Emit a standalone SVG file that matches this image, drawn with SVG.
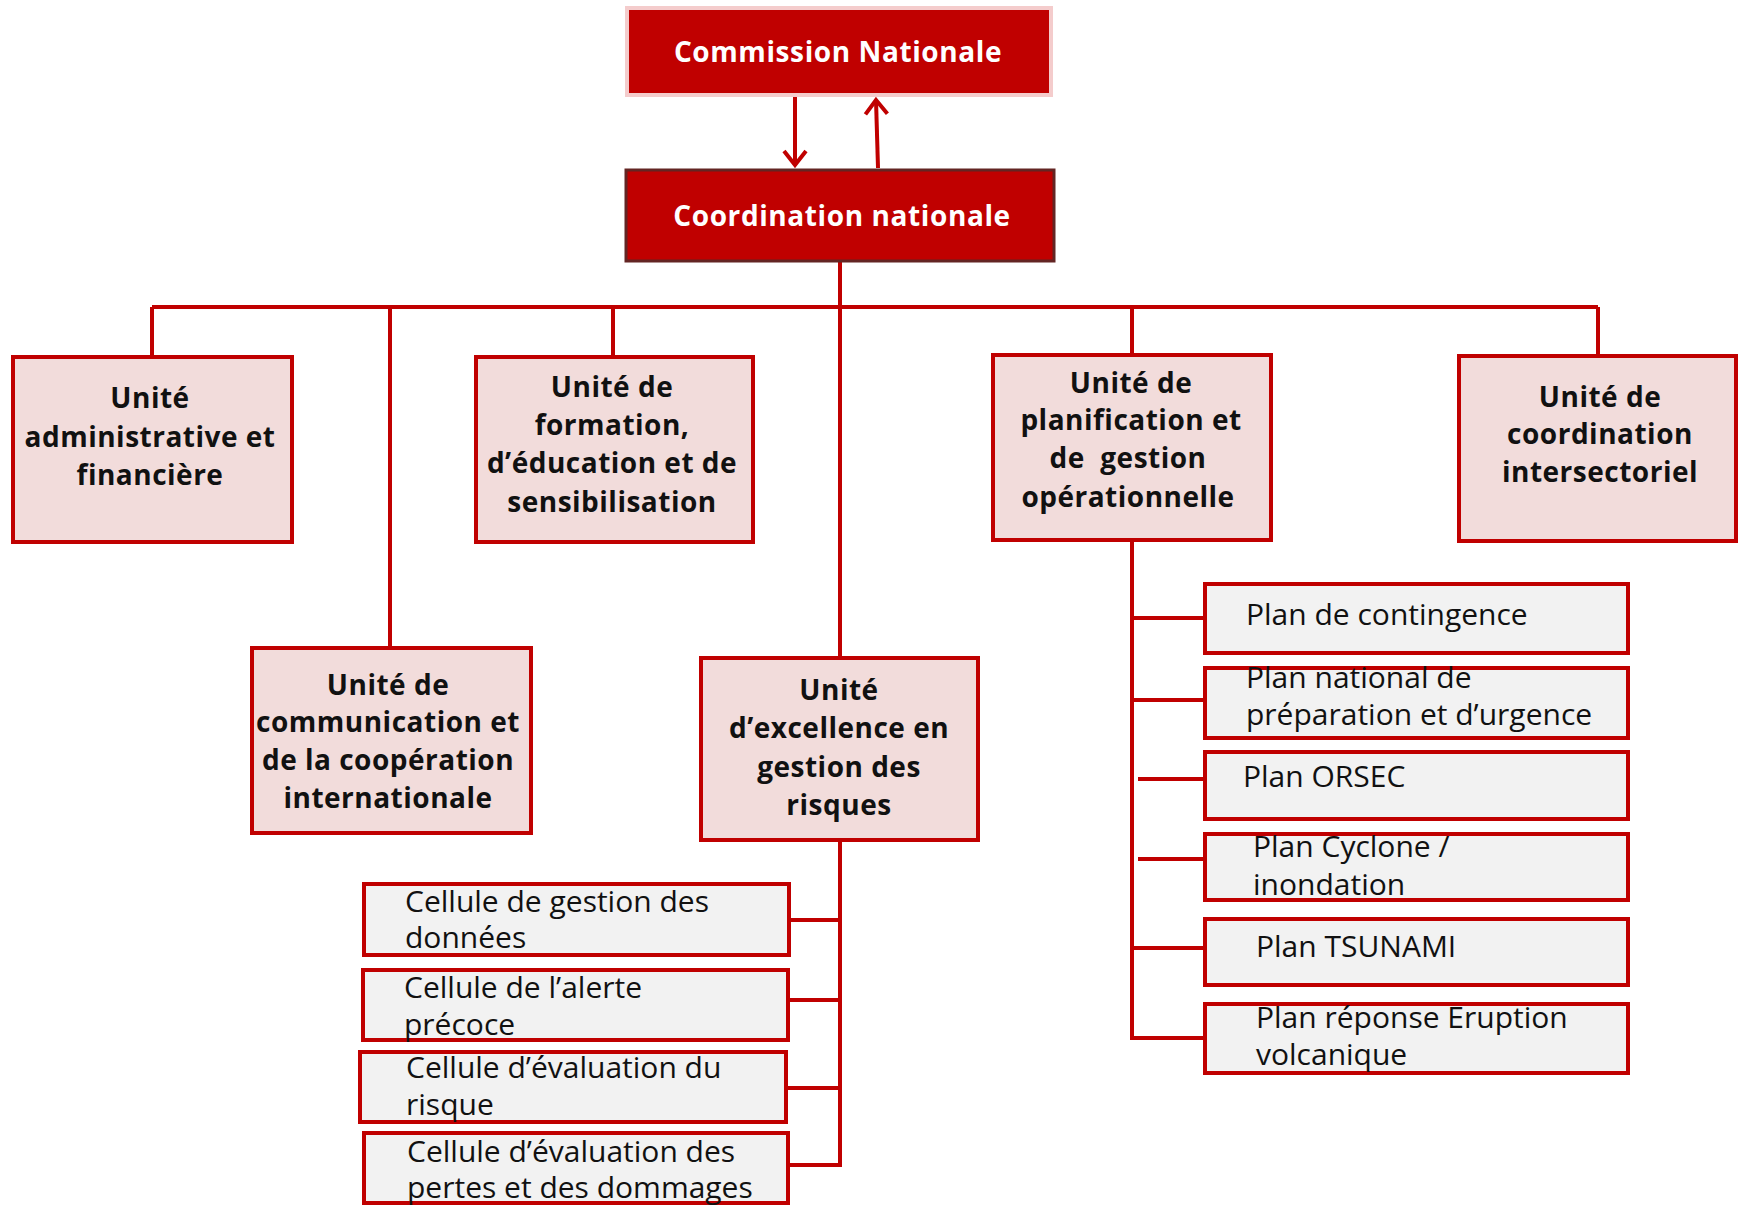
<svg xmlns="http://www.w3.org/2000/svg" width="1740" height="1206" viewBox="0 0 1740 1206">
<defs>
<style>
.unit rect{fill:#f2dcdb;stroke:#c00000;stroke-width:4}
.cell rect{fill:#f2f2f2;stroke:#c00000;stroke-width:4}
.hd{font-family:"Open Sans","Liberation Sans",sans-serif;font-weight:700;font-size:28px;letter-spacing:0.5px;fill:#111;text-anchor:middle}
.top{font-family:"Open Sans","Liberation Sans",sans-serif;font-weight:700;font-size:28px;letter-spacing:0.6px;fill:#fff;text-anchor:middle}
.tx{font-family:"Open Sans","Liberation Sans",sans-serif;font-size:30px;fill:#111}
.conn{stroke:#c00000;stroke-width:4;fill:none}
</style>
<marker id="open" viewBox="0 0 18 26" refX="16" refY="13" markerWidth="18" markerHeight="26" markerUnits="userSpaceOnUse" orient="auto" overflow="visible">
<path d="M2,2 L16,13 L2,24" fill="none" stroke="#c00000" stroke-width="4"/>
</marker>
</defs>
<rect width="1740" height="1206" fill="#fff"/>

<g id="connectors" class="conn">
<path d="M795,97 V165" marker-end="url(#open)"/>
<path d="M878,168 L876,100" marker-end="url(#open)"/>
<path d="M840,262 V656"/>
<path d="M152,307 H1598"/>
<path d="M152,307 V355"/>
<path d="M390,307 V646"/>
<path d="M613,307 V355"/>
<path d="M1132,307 V353"/>
<path d="M1598,307 V354"/>
<path d="M840,842 V1167"/>
<path d="M790,920 H840"/>
<path d="M789,1000 H840"/>
<path d="M788,1088 H840"/>
<path d="M790,1165 H840"/>
<path d="M1132,542 V1040"/>
<path d="M1132,618 H1203"/>
<path d="M1132,700 H1203"/>
<path d="M1138,779 H1203"/>
<path d="M1138,859 H1203"/>
<path d="M1132,948 H1203"/>
<path d="M1132,1038 H1203"/>
</g>

<g id="commission">
<rect x="627" y="8" width="424" height="87" fill="#c00000" stroke="#f4cccc" stroke-width="4"/>
<text class="top" x="838" y="62">Commission Nationale</text>
</g>
<g id="coordination">
<rect x="626" y="170" width="428" height="91" fill="#c00000" stroke="#632523" stroke-width="3"/>
<text class="top" x="842" y="226">Coordination nationale</text>
</g>

<g id="unite-admin" class="unit">
<rect x="13" y="357" width="279" height="185"/>
<text class="hd" x="150" y="408">Unité</text>
<text class="hd" x="150" y="447">administrative et</text>
<text class="hd" x="150" y="485">financière</text>
</g>
<g id="unite-formation" class="unit">
<rect x="476" y="357" width="277" height="185"/>
<text class="hd" x="612" y="397">Unité de</text>
<text class="hd" x="612" y="435">formation,</text>
<text class="hd" x="612" y="473">d’éducation et de</text>
<text class="hd" x="612" y="512">sensibilisation</text>
</g>
<g id="unite-planification" class="unit">
<rect x="993" y="355" width="278" height="185"/>
<text class="hd" x="1131" y="393">Unité de</text>
<text class="hd" x="1131" y="430">planification et</text>
<text class="hd" x="1128" y="468" xml:space="preserve">de  gestion</text>
<text class="hd" x="1128" y="507">opérationnelle</text>
</g>
<g id="unite-intersectoriel" class="unit">
<rect x="1459" y="356" width="277" height="185"/>
<text class="hd" x="1600" y="407">Unité de</text>
<text class="hd" x="1600" y="444">coordination</text>
<text class="hd" x="1600" y="482">intersectoriel</text>
</g>
<g id="unite-communication" class="unit">
<rect x="252" y="648" width="279" height="185"/>
<text class="hd" x="388" y="695">Unité de</text>
<text class="hd" x="388" y="732">communication et</text>
<text class="hd" x="388" y="770">de la coopération</text>
<text class="hd" x="388" y="808">internationale</text>
</g>
<g id="unite-excellence" class="unit">
<rect x="701" y="658" width="277" height="182"/>
<text class="hd" x="839" y="700">Unité</text>
<text class="hd" x="839" y="738">d’excellence en</text>
<text class="hd" x="839" y="777">gestion des</text>
<text class="hd" x="839" y="815">risques</text>
</g>

<g id="cellule-donnees" class="cell">
<rect x="364" y="884" width="425" height="71"/>
<text class="tx" x="405" y="912">Cellule de gestion des</text>
<text class="tx" x="405" y="948">données</text>
</g>
<g id="cellule-alerte" class="cell">
<rect x="363" y="970" width="425" height="70"/>
<text class="tx" x="404" y="998">Cellule de l’alerte</text>
<text class="tx" x="404" y="1035">précoce</text>
</g>
<g id="cellule-risque" class="cell">
<rect x="360" y="1052" width="426" height="70"/>
<text class="tx" x="406" y="1078">Cellule d’évaluation du</text>
<text class="tx" x="406" y="1115">risque</text>
</g>
<g id="cellule-pertes" class="cell">
<rect x="364" y="1133" width="424" height="70"/>
<text class="tx" x="407" y="1162">Cellule d’évaluation des</text>
<text class="tx" x="407" y="1198">pertes et des dommages</text>
</g>

<g id="plan-contingence" class="cell">
<rect x="1205" y="584" width="423" height="69"/>
<text class="tx" x="1246" y="625">Plan de contingence</text>
</g>
<g id="plan-national" class="cell">
<rect x="1205" y="668" width="423" height="70"/>
<text class="tx" x="1246" y="688">Plan national de</text>
<text class="tx" x="1246" y="725">préparation et d’urgence</text>
</g>
<g id="plan-orsec" class="cell">
<rect x="1205" y="752" width="423" height="67"/>
<text class="tx" x="1243" y="787">Plan ORSEC</text>
</g>
<g id="plan-cyclone" class="cell">
<rect x="1205" y="834" width="423" height="66"/>
<text class="tx" x="1253" y="857">Plan Cyclone /</text>
<text class="tx" x="1253" y="895">inondation</text>
</g>
<g id="plan-tsunami" class="cell">
<rect x="1205" y="919" width="423" height="66"/>
<text class="tx" x="1256" y="957">Plan TSUNAMI</text>
</g>
<g id="plan-volcan" class="cell">
<rect x="1205" y="1004" width="423" height="69"/>
<text class="tx" x="1256" y="1028">Plan réponse Eruption</text>
<text class="tx" x="1256" y="1065">volcanique</text>
</g>
</svg>
